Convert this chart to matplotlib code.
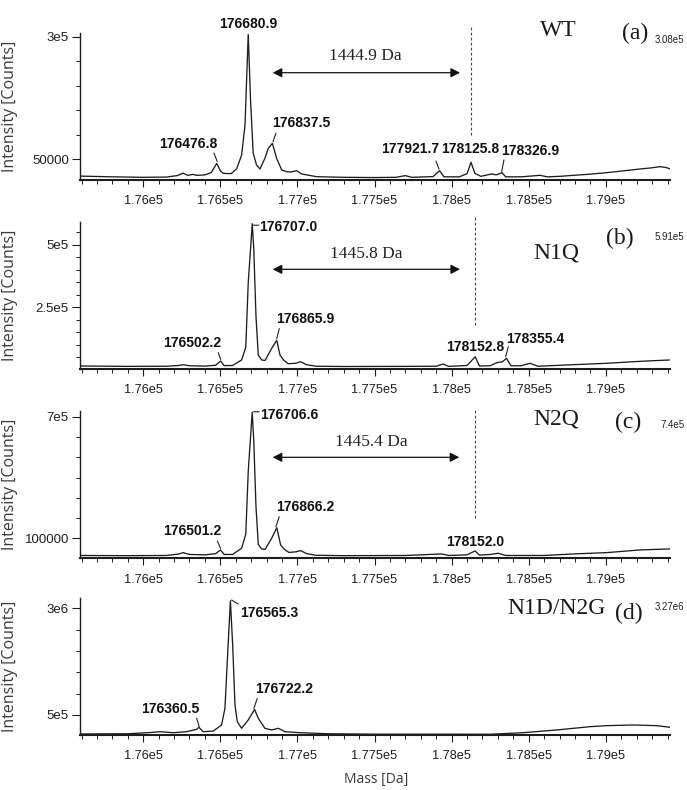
import matplotlib
matplotlib.use("Agg")
import matplotlib.pyplot as plt
import matplotlib.transforms as mtransforms
from matplotlib.patches import FancyArrowPatch
from matplotlib import font_manager
from matplotlib.ticker import FixedLocator, FixedFormatter, MultipleLocator, FuncFormatter

# ---------------------------------------------------------------- data
# Deconvoluted intact-mass spectra, (mass [Da], intensity [counts]) along each trace
wt_trace = [
    (175590, 15000), (175800, 13500), (176000, 12500), (176150, 13000), (176220, 16000),
    (176259, 21000), (176290, 16500), (176320, 18500), (176350, 16500), (176400, 17500),
    (176440, 22000), (176476.8, 41000), (176500, 26000), (176520, 20500), (176570, 20000),
    (176606, 30000), (176638, 58000), (176660, 119000), (176668, 190000), (176680.9, 305000),
    (176696, 170000), (176713, 62000), (176735, 37700), (176757, 29500), (176789, 51400),
    (176811, 71900), (176837.5, 82000), (176865, 51400), (176898, 27500), (176930, 24000),
    (176960, 23500), (176995, 26000), (177027, 19400), (177124, 13800), (177300, 12500),
    (177500, 12000), (177640, 12500), (177700, 16000), (177740, 12500), (177880, 14000),
    (177921.7, 26000), (177950, 13500), (178050, 13500), (178100, 20000), (178125.8, 43300),
    (178150, 20800), (178190, 14500), (178259, 19400), (178290, 17500), (178326.9, 22000),
    (178350, 13500), (178450, 13500), (178530, 15500), (178573, 16600), (178620, 13500),
    (178700, 14500), (178900, 19000), (179005, 22000), (179150, 27000), (179221, 29500),
    (179300, 32000), (179351, 34300), (179390, 32500), (179416, 30000),
]
n1q_trace = [
    (175590, 16000), (175900, 14500), (176150, 15000), (176230, 18000), (176259, 21000),
    (176300, 17000), (176400, 15500), (176470, 19000), (176502.2, 36000), (176525, 17500),
    (176580, 18000), (176638, 40000), (176665, 90000), (176681, 348000), (176707.0, 583000),
    (176717, 480000), (176731, 217000), (176746, 59500), (176768, 40000), (176790, 38000),
    (176833, 86000), (176865.9, 118600), (176887, 59500), (176910, 40000), (176940, 25000),
    (176990, 27000), (177020, 33000), (177060, 21000), (177120, 15000), (177300, 14000),
    (177700, 14500), (177900, 15000), (177945, 24000), (177980, 14500), (178100, 18000),
    (178152.8, 52700), (178180, 16000), (178250, 17000), (178292, 29000), (178330, 33000),
    (178355.4, 46400), (178385, 17000), (178450, 17000), (178508, 26700), (178560, 15000),
    (178789, 21200), (179005, 26700), (179221, 34600), (179416, 40000),
]
n2q_trace = [
    (175590, 15000), (175900, 14000), (176150, 15000), (176230, 22000), (176259, 29000),
    (176300, 20000), (176400, 18000), (176470, 24000), (176501.2, 42300), (176525, 20000),
    (176580, 20000), (176638, 50600), (176665, 120000), (176681, 430000), (176706.6, 721700),
    (176717, 580000), (176731, 260000), (176746, 70000), (176768, 47300), (176790, 45000),
    (176833, 100000), (176866.2, 152300), (176891, 67000), (176915, 45000), (176945, 30000),
    (176990, 33000), (177020, 39000), (177060, 24000), (177120, 16000), (177300, 14000),
    (177700, 15000), (177935, 22500), (177980, 15000), (178100, 18000), (178152.0, 37400),
    (178180, 17000), (178250, 20000), (178302, 26000), (178350, 15000), (178600, 15000),
    (178789, 22500), (179005, 29000), (179221, 42300), (179416, 47300),
]
n1dn2g_trace = [
    (175590, 55000), (175900, 60000), (176050, 90000), (176108, 109000), (176195, 85000),
    (176281, 109000), (176346, 163000), (176360.5, 212000), (176389, 109000), (176454, 123000),
    (176508, 266000), (176530, 657000), (176545, 1750000), (176565.3, 3178000), (176580, 2140000),
    (176595, 734000), (176610, 343000), (176638, 188000), (176681, 383000), (176722.2, 630000),
    (176746, 423000), (176789, 188000), (176833, 149000), (176876, 188000), (176919, 109000),
    (177016, 85000), (177200, 60000), (177500, 50000), (178000, 50000), (178248, 48000),
    (178464, 85000), (178681, 149000), (178897, 226000), (179005, 250000), (179178, 266000),
    (179329, 250000), (179416, 212000),
]

wt_peaks = [176476.8, 176680.9, 176837.5, 177921.7, 178125.8, 178326.9]
n1q_peaks = [176502.2, 176707.0, 176865.9, 178152.8, 178355.4]
n2q_peaks = [176501.2, 176706.6, 176866.2, 178152.0]
n1dn2g_peaks = [176360.5, 176565.3, 176722.2]

variants = ["WT", "N1Q", "N2Q", "N1D/N2G"]
panel_tags = ["(a)", "(b)", "(c)", "(d)"]
max_labels = ["3.08e5", "5.91e5", "7.4e5", "3.27e6"]
shift_labels = ["1444.9 Da", "1445.8 Da", "1445.4 Da", None]
shift_marks = [178125.8, 178152.8, 178152.0, None]
y_tick_values = [[50000, 300000], [250000, 500000], [100000, 700000], [500000, 3000000]]
y_tick_labels = [["50000", "3e5"], ["2.5e5", "5e5"], ["100000", "7e5"], ["5e5", "3e6"]]

traces = [wt_trace, n1q_trace, n2q_trace, n1dn2g_trace]
peaks = [wt_peaks, n1q_peaks, n2q_peaks, n1dn2g_peaks]

# ---------------------------------------------------------------- layout / style
W, H = 687, 790
XLIM = (175590, 179416)
ylims = [(7000, 308000), (4000, 591000), (1000, 730000), (31000, 3235000)]
y_minor = [50000, 50000, 100000, 500000]
# axes boxes in pixels: (left, top, right, bottom)
boxes = [(80, 33, 670, 180), (80, 221.7, 670, 369), (80, 410.7, 670, 558.3), (80, 598.3, 670, 735)]

# peak label placement: text offset (dx, dy) in pixels, ha, leader (x0, y0, x1, y1) in pixels
label_layout = [
    [((-28.5, 19.6), "center", (-2.8, 10.3, 0.5, 1.8)),
     ((0, 10.5), "center", None),
     ((29.3, 20.3), "center", (3.6, 10.3, 0.6, 1.6)),
     ((-29.3, 21.4), "center", (-3.6, 9.7, -0.6, 1.7)),
     ((-1, 13), "center", None),
     ((28.2, 21.7), "center", (1.9, 12.7, -0.4, 1.0))],
    [((-28.2, 18), "center", (-2.4, 8.3, 0, 1.5)),
     ((7, -3.5), "left", (1, -1.5, 6.5, -1.5)),
     ((28.7, 21), "center", (2.5, 11.7, 0, 1.7)),
     ((0, 9.5), "center", None),
     ((28.5, 19.3), "center", (1.8, 11.6, -0.8, 1.6))],
    [((-28.4, 18.7), "center", (-3.1, 9, 0, 1.5)),
     ((7.8, -2.4), "left", (1, 0.6, 7, 0.6)),
     ((28.6, 20.5), "center", (2.4, 11, -0.9, 1)),
     ((0, 9), "center", None)],
    [((-28.9, 18.3), "center", (-2.2, 9, 0.4, 0.6)),
     ((10.2, -12.3), "left", (1.2, 0.7, 7.8, -3.3)),
     ((29.6, 20.3), "center", (2.6, 11, -0.7, 1))],
]

name_pos = [(558, 30.5), (556.7, 253), (556.7, 419), (556.7, 608)]
tag_pos = [(634.7, 33), (620, 238.3), (628.3, 422.7), (629, 613.3)]
max_pos = [(655, 40), (655, 236.7), (660, 425), (655, 606.7)]
shift_text_pos = [(365, 55.5), (366, 253.5), (371, 442.5)]
arrow_pos = [(272.7, 460, 72.7), (272.7, 460, 269.3), (272.7, 459.3, 457.3)]
dash_span = [(25, 135), (215, 325), (408.3, 518.3)]

# fonts
names = {f.name for f in font_manager.fontManager.ttflist}
SANS = "Liberation Sans"
SERIF = "Liberation Serif"
PLAIN = "Open Sans" if "Open Sans" in names else "DejaVu Sans"
plt.rcParams["font.family"] = [SANS]

INK = "#1e1e1e"


def fx(px):
    return px / W


def fy(py):
    return 1 - py / H


fig = plt.figure(figsize=(W / 100, H / 100), dpi=100)

for i in range(4):
    l, t, r, b = boxes[i]
    ax = fig.add_axes([fx(l), fy(b), (r - l) / W, (b - t) / H])
    mass = [p[0] for p in traces[i]]
    inten = [p[1] for p in traces[i]]
    ax.plot(mass, inten, color=INK, lw=0.95, solid_joinstyle="round")
    ax.set_xlim(*XLIM)
    ax.set_ylim(*ylims[i])

    for s in ("top", "right"):
        ax.spines[s].set_visible(False)
    ax.spines["left"].set_linewidth(1.0)
    ax.spines["bottom"].set_linewidth(1.5)
    ax.spines["left"].set_color(INK)
    ax.spines["bottom"].set_color(INK)

    ax.xaxis.set_major_locator(MultipleLocator(500))
    ax.xaxis.set_minor_locator(MultipleLocator(100))
    ax.xaxis.set_major_formatter(FuncFormatter(lambda v, pos: f"{v / 1e5:g}e5"))
    ax.yaxis.set_major_locator(FixedLocator(y_tick_values[i]))
    ax.yaxis.set_major_formatter(FixedFormatter(y_tick_labels[i]))
    ax.yaxis.set_minor_locator(MultipleLocator(y_minor[i]))
    ax.tick_params(axis="x", which="major", direction="out", length=5, width=0.8,
                   pad=6, labelsize=9.2, colors=INK)
    ax.tick_params(axis="x", which="minor", direction="out", length=3, width=0.7, colors=INK)
    ax.tick_params(axis="y", which="major", direction="out", length=6, width=0.8,
                   pad=2, labelsize=9.5, colors=INK)
    ax.tick_params(axis="y", which="minor", direction="out", length=3, width=0.7, colors=INK)

    ax.set_ylabel("Intensity [Counts]", family=PLAIN, fontsize=11.5, color="#3a3a3a")
    ax.yaxis.set_label_coords((18 - l) / (r - l), 0.5)

    # labelled peaks
    lookup = dict(traces[i])
    for m, (off, ha, leader) in zip(peaks[i], label_layout[i]):
        h = lookup[m]
        ax.annotate(f"{m:.1f}", xy=(m, h), xytext=off, textcoords="offset pixels",
                    ha=ha, va="center", fontsize=10, fontweight="bold",
                    color="#111111", annotation_clip=False)
        if leader is not None:
            x0, y0, x1, y1 = leader
            start = mtransforms.offset_copy(ax.transData, fig=fig, x=x0, y=y0, units="dots")
            end = mtransforms.offset_copy(ax.transData, fig=fig, x=x1, y=y1, units="dots")
            ax.annotate("", xy=(m, h), xycoords=end, xytext=(m, h), textcoords=start,
                        arrowprops=dict(arrowstyle="-", lw=0.8, color="#222222",
                                        shrinkA=0, shrinkB=0),
                        annotation_clip=False)

    # mass-shift annotation
    if shift_labels[i] is not None:
        y0, y1 = dash_span[i]
        trans = mtransforms.blended_transform_factory(ax.transData, ax.transAxes)
        ax.plot([shift_marks[i]] * 2, [(b - y1) / (b - t), (b - y0) / (b - t)],
                transform=trans, color="#444444", lw=0.8, ls=(0, (2.5, 2)), clip_on=False)
        ax0, ax1, ay = arrow_pos[i]
        fig.patches.append(FancyArrowPatch(
            (fx(ax0), fy(ay)), (fx(ax1), fy(ay)), transform=fig.transFigure,
            arrowstyle="<|-|>,head_length=0.55,head_width=0.28", mutation_scale=10,
            lw=0.9, color="#111111", shrinkA=0, shrinkB=0))
        sx, sy = shift_text_pos[i]
        fig.text(fx(sx), fy(sy), shift_labels[i], family=SERIF,
                 fontsize=12.5, ha="center", va="center", color="#222222")

    nx, ny = name_pos[i]
    fig.text(fx(nx), fy(ny), variants[i], family=SERIF, fontsize=17,
             ha="center", va="center", color="#1a1a1a")
    tx, ty = tag_pos[i]
    fig.text(fx(tx), fy(ty), panel_tags[i], family=SERIF, fontsize=17,
             ha="center", va="center", color="#1a1a1a")
    mx, my = max_pos[i]
    fig.text(fx(mx), fy(my), max_labels[i], fontsize=7, ha="left", va="center",
             color="#222222")

fig.text(fx(376), fy(780), "Mass [Da]", family=PLAIN, fontsize=10,
         ha="center", va="center", color="#3a3a3a")

fig.savefig("out.png", dpi=100, facecolor="white")
